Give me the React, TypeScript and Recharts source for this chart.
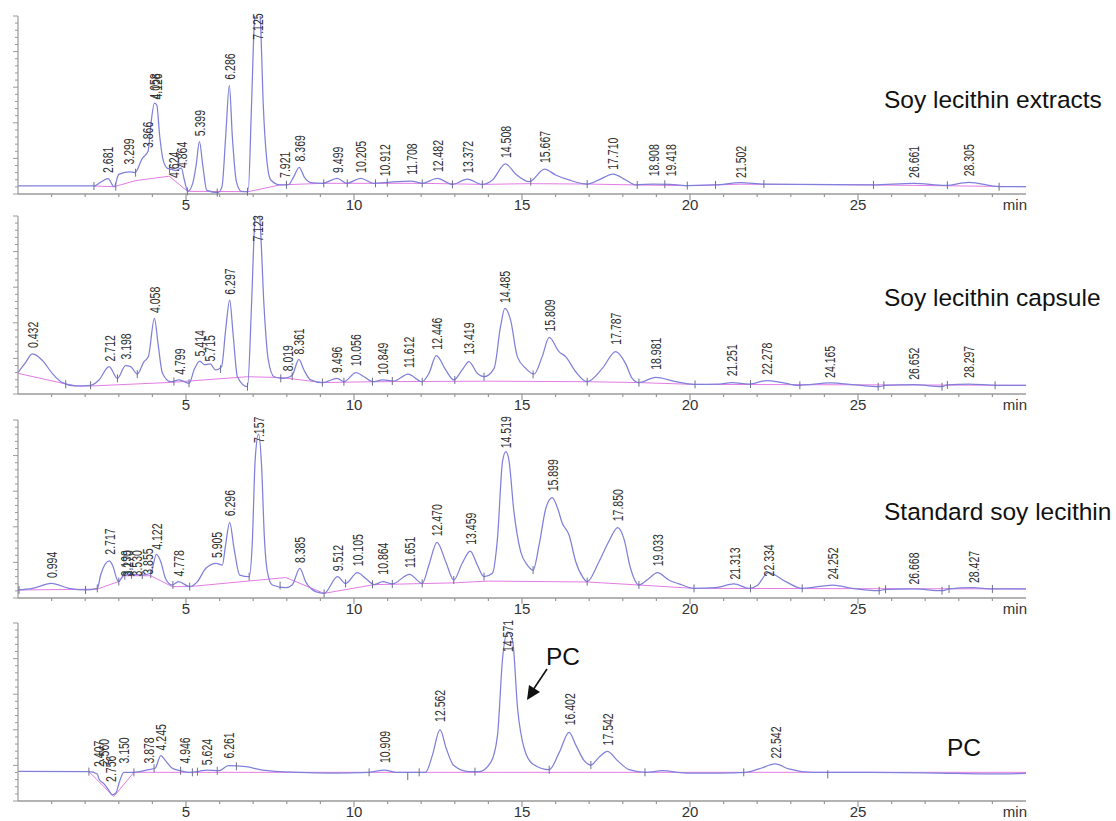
import { ComposedChart, Line, Scatter, XAxis, YAxis } from 'recharts'

type Pt = [number, number]

// retention time (min) vs detector response (0-100 = full panel height)
const extractSignal: Pt[] = [
  [0, 4.5], [1.0, 4.5], [2.26, 4.5], [2.45, 6.5], [2.68, 8.6], [2.86, 4.1], [3.0, 11], [3.3, 12.5], [3.48, 12],
  [3.7, 20], [3.87, 24], [3.96, 40], [4.06, 51], [4.13, 50], [4.22, 32], [4.32, 19], [4.45, 14.4], [4.62, 13.6],
  [4.7, 13.2], [4.86, 14.6], [4.95, 8], [5.05, 1.5], [5.2, 6], [5.3, 16], [5.4, 29.4], [5.5, 16], [5.62, 2],
  [5.95, 0.8], [6.07, 4], [6.18, 32], [6.29, 61], [6.38, 32], [6.5, 7], [6.65, 1.5], [6.85, 1.3], [6.95, 50],
  [7.03, 95], [7.13, 112], [7.22, 95], [7.3, 50], [7.4, 20], [7.52, 8], [7.8, 5.1], [8.05, 5.2], [8.2, 9.5],
  [8.37, 15], [8.52, 9.5], [8.72, 6.4], [9.06, 6], [9.5, 8.8], [9.78, 6], [10.2, 8.8], [10.58, 6], [10.91, 6.4],
  [11.7, 7.3], [12.03, 6], [12.48, 8.8], [12.93, 5.4], [13.37, 8.4], [13.82, 5.4], [14.12, 7.9], [14.51, 16.9],
  [14.81, 11.2], [15.22, 6.9], [15.67, 14], [16.0, 10.7], [16.4, 7.9], [16.94, 5.6], [17.29, 7.9], [17.71, 11.2],
  [18.09, 7.9], [18.38, 5.1], [18.91, 5.6], [19.42, 5.4], [19.87, 4.7], [20.76, 5.1], [21.5, 6.4], [22.2, 5.6],
  [25.43, 5.1], [26.66, 6], [27.61, 4.9], [28.3, 6.6], [29.2, 4.1], [30, 4.1],
]
const extractBase: Pt[] = [
  [2.26, 4.5], [2.86, 4.1], [3.5, 7.5], [4.5, 10], [5.05, 1.5], [6.85, 1.3], [7.8, 5.1], [9.06, 6], [10.58, 6],
  [12.03, 6], [13.82, 5.4], [15.22, 5.8], [16.94, 5.6], [18.38, 5.1], [19.87, 4.7], [21.5, 5.5], [25.43, 5.1], [30, 4.1],
]
const extractEvents: Pt[] = [
  [2.26, 4.5], [2.91, 4.1], [3.5, 12], [4.51, 14], [5.04, 1.5], [5.93, 0.8], [6.83, 1.3], [7.99, 5.2], [9.1, 6],
  [9.8, 6], [10.64, 6], [10.99, 6.4], [12.03, 6], [12.93, 5.4], [13.82, 5.4], [15.26, 6.9], [16.94, 5.6],
  [18.43, 5.1], [19.25, 5.5], [19.92, 4.7], [20.76, 5.1], [22.2, 5.6], [25.46, 5.1], [27.66, 4.9], [29.2, 4.1],
]
const extractPeaks: [string, number][] = [
  ['2.681', 10.7], ['3.299', 15.4], ['3.866', 24.7], ['4.126', 51.9], ['4.058', 51.9], ['4.624', 7.9],
  ['4.864', 13.5], ['5.399', 31.3], ['6.286', 63.1], ['7.125', 85.6], ['7.921', 7.9], ['8.369', 17.2],
  ['9.499', 10.7], ['10.205', 10.7], ['10.912', 8.8], ['11.708', 9.7], ['12.482', 11.2], ['13.372', 10.7],
  ['14.508', 19.1], ['15.667', 16.3], ['17.710', 12.5], ['18.908', 8.8], ['19.418', 8.8], ['21.502', 7.9],
  ['26.661', 7.9], ['28.305', 8.8],
]

const capsuleSignal: Pt[] = [
  [0, 12], [0.2, 17], [0.43, 22.5], [0.72, 19], [1.02, 11.6], [1.32, 6.4], [1.72, 4.5], [2.16, 4.9], [2.41, 7.9],
  [2.71, 15.4], [2.96, 8.8], [3.2, 15.9], [3.35, 15.4], [3.55, 11.2], [3.75, 18.2], [3.88, 21], [4.06, 42.5],
  [4.17, 28], [4.3, 11.6], [4.54, 6.9], [4.8, 7.9], [5.09, 6], [5.25, 14], [5.41, 18.5], [5.55, 16.5],
  [5.72, 16.9], [5.88, 13.5], [6.06, 15.4], [6.18, 36], [6.3, 52.8], [6.4, 34], [6.53, 9.7], [6.83, 4.1],
  [6.95, 50], [7.04, 95], [7.12, 110], [7.21, 95], [7.32, 50], [7.45, 19], [7.62, 9.7], [7.87, 8.8], [8.02, 9.2],
  [8.16, 10.5], [8.36, 19.5], [8.51, 13.5], [8.71, 7.9], [9.06, 6.4], [9.5, 8.8], [9.7, 6.9], [10.06, 12],
  [10.3, 9.7], [10.55, 6.9], [10.85, 7.9], [11.19, 7.3], [11.61, 11.2], [12.03, 6.9], [12.23, 11.6], [12.45, 21.5],
  [12.73, 13.5], [12.97, 7.9], [13.22, 13.5], [13.42, 18.2], [13.67, 11.6], [13.87, 9.7], [14.17, 14.4],
  [14.36, 37.8], [14.49, 48.1], [14.66, 41.6], [14.86, 21], [15.11, 14.4], [15.36, 11.2], [15.6, 21], [15.81, 31.8],
  [16.1, 23.8], [16.3, 21], [16.6, 12.5], [16.94, 6.9], [17.39, 14.4], [17.79, 23.8], [18.08, 17.2], [18.28, 8.8],
  [18.48, 6.4], [18.98, 9.4], [19.57, 6.9], [20.12, 5.4], [20.86, 5.6], [21.25, 6.4], [21.76, 5.6], [22.28, 7.5],
  [22.75, 6.4], [23.24, 4.9], [24.17, 6.2], [24.93, 5.1], [25.63, 4.1], [25.82, 4.9], [26.65, 5.2], [27.5, 4.1],
  [27.66, 5.1], [28.3, 5.6], [29.1, 4.9], [30, 4.9],
]
const capsuleBase: Pt[] = [
  [0, 11.6], [1.7, 4.5], [2.16, 4.5], [4.54, 6.5], [6.83, 9.7], [7.87, 9.2], [9.06, 6.4], [10.55, 6.9],
  [14, 7.2], [16.94, 6.9], [18.48, 6.4], [20.12, 5.4], [30, 4.9],
]
const capsuleEvents: Pt[] = [
  [1.42, 5.5], [2.16, 4.9], [2.96, 8.8], [3.55, 11.2], [4.64, 7], [5.09, 6], [6.03, 14], [6.83, 4.1], [7.82, 8.8],
  [8.16, 10], [9.06, 6.4], [9.7, 6.9], [10.55, 6.9], [11.14, 7.3], [12.03, 6.9], [13.0, 7.9], [13.87, 9.7],
  [15.33, 11], [16.94, 6.9], [18.48, 6.4], [20.15, 5.4], [21.8, 5.6], [23.27, 4.9], [25.6, 4.1], [25.77, 4.9],
  [27.5, 4.1], [27.66, 5.1], [29.08, 4.9],
]
const capsulePeaks: [string, number][] = [
  ['0.432', 24.7], ['2.712', 17.2], ['3.198', 18.2], ['4.058', 44.4], ['4.799', 9.7], ['5.414', 20],
  ['5.715', 17.2], ['6.297', 54.7], ['7.123', 84.6], ['8.019', 11.6], ['8.361', 21], ['9.496', 10.7],
  ['10.056', 14.4], ['10.849', 9.7], ['11.612', 13.5], ['12.446', 23.8], ['13.419', 21], ['14.485', 50],
  ['15.809', 34], ['17.787', 26.6], ['18.981', 12.5], ['21.251', 8.8], ['22.278', 9.7], ['24.165', 7.9],
  ['26.652', 6.9], ['28.297', 7.9],
]

const standardSignal: Pt[] = [
  [0, 4.5], [0.43, 5.4], [0.99, 8.2], [1.52, 5.4], [2.01, 4.5], [2.36, 5.4], [2.46, 12.9], [2.72, 20.8],
  [2.81, 18.5], [2.99, 9.2], [3.15, 12.9], [3.4, 13.3], [3.7, 12.9], [3.95, 13.9], [4.12, 24.5], [4.25, 20.4],
  [4.39, 11], [4.59, 7.3], [4.78, 9.2], [5.11, 6.4], [5.34, 9.2], [5.59, 16.7], [5.9, 19.5], [6.08, 18.5],
  [6.18, 30], [6.3, 42.5], [6.43, 27.9], [6.6, 12.9], [6.88, 12], [6.97, 29.8], [7.06, 78], [7.16, 92],
  [7.25, 74], [7.33, 35], [7.42, 15], [7.57, 7.3], [7.97, 5.8], [8.16, 7.3], [8.39, 16.7], [8.56, 9.2],
  [8.86, 3.6], [9.11, 2.6], [9.51, 12], [9.75, 8.2], [10.1, 14.2], [10.35, 11], [10.6, 7.5], [10.86, 9.2],
  [11.14, 7.9], [11.65, 13.3], [12.03, 8.2], [12.23, 18.5], [12.47, 31.3], [12.73, 20.4], [12.97, 10.1],
  [13.22, 19.5], [13.46, 26.4], [13.67, 18.5], [13.87, 12], [14.12, 13.9], [14.27, 33.5], [14.42, 76.6],
  [14.52, 82.2], [14.61, 77.5], [14.76, 48.5], [14.96, 26], [15.16, 18.5], [15.33, 15.7], [15.51, 29.8],
  [15.71, 50.4], [15.9, 56.4], [16.06, 50.4], [16.2, 42], [16.4, 35.4], [16.6, 20.4], [16.8, 12], [16.94, 9.2],
  [17.29, 20.4], [17.58, 31.6], [17.85, 39.5], [18.03, 33.5], [18.23, 16.7], [18.48, 7.3], [18.78, 11],
  [19.03, 14.2], [19.37, 10.1], [19.77, 7.3], [20.12, 5.4], [20.76, 5.8], [21.31, 7.9], [21.76, 5.4], [22.0, 7],
  [22.33, 14.2], [22.85, 9.2], [23.34, 5.4], [24.25, 7.3], [24.83, 5.4], [25.63, 4.1], [25.82, 4.9], [26.67, 5.1],
  [27.5, 4.1], [27.71, 5.1], [28.43, 5.8], [28.99, 5.1], [30, 5.1],
]
const standardBase: Pt[] = [
  [0, 4.5], [2.36, 5], [2.99, 9.2], [3.15, 12.5], [3.95, 12.5], [4.59, 6.4], [5.11, 6.4], [7.97, 11.5],
  [9.11, 2.6], [10.6, 7.5], [12.97, 8.5], [14, 9.5], [16.94, 9], [18.48, 7.3], [20.12, 5.4], [30, 5.1],
]
const standardEvents: Pt[] = [
  [0.03, 4.5], [2.01, 4.5], [2.36, 5.4], [3.0, 9.2], [3.18, 12.5], [3.38, 13], [3.7, 12.9], [3.95, 13.5],
  [4.61, 7.3], [5.11, 6.4], [6.88, 12], [7.8, 7], [9.11, 2.6], [9.75, 8.2], [10.55, 7.7], [11.14, 7.9],
  [12.03, 8.2], [12.97, 10.1], [13.87, 12], [15.33, 15.7], [16.94, 9.2], [18.48, 7.3], [20.12, 5.4], [21.8, 5.4],
  [23.34, 5.4], [25.63, 4.1], [25.82, 4.9], [27.5, 4.1], [27.71, 5.1], [29.0, 5.1],
]
const standardPeaks: [string, number][] = [
  ['0.994', 10.1], ['2.717', 23.2], ['3.199', 11], ['3.270', 11], ['3.530', 11], ['3.855', 12], ['4.122', 26],
  ['4.778', 11], ['5.905', 21.3], ['6.296', 44.8], ['7.157', 86], ['8.385', 18.5], ['9.512', 13.9],
  ['10.105', 16.7], ['10.864', 12], ['11.651', 15.7], ['12.470', 33.5], ['13.459', 28.8], ['14.519', 83],
  ['15.899', 58.8], ['17.850', 42], ['19.033', 16.7], ['21.313', 9.2], ['22.334', 11], ['24.252', 9.2],
  ['26.668', 6.4], ['28.427', 7.3],
]

const pcSignal: Pt[] = [
  [0, 16.7], [2.11, 16.5], [2.36, 15.2], [2.41, 12.4], [2.56, 9.6], [2.71, 5.8], [2.8, 3.5], [2.91, 4.5],
  [3.03, 11.4], [3.15, 16.1], [3.45, 16.1], [3.88, 17.6], [4.08, 18.4], [4.25, 25.5], [4.39, 22.7], [4.59, 18.4],
  [4.84, 17], [5.14, 16.1], [5.39, 16.7], [5.62, 17.4], [5.98, 17], [6.26, 19.9], [6.78, 19.3], [7.27, 17.4],
  [8.36, 16.1], [9.36, 15.7], [10.45, 16.1], [10.91, 17.4], [11.24, 16.1], [12.13, 16.1], [12.33, 25.5],
  [12.56, 40.1], [12.75, 29.2], [12.97, 19.9], [13.42, 16.5], [13.72, 16.5], [14.07, 21.7], [14.27, 36.7],
  [14.42, 79.8], [14.57, 95], [14.72, 90], [14.87, 51.7], [15.07, 29.2], [15.32, 20.8], [15.81, 17.6],
  [16.11, 27.3], [16.4, 38.6], [16.61, 31.1], [16.85, 22.7], [17.05, 20.2], [17.29, 24.5], [17.54, 27.9],
  [17.84, 22.7], [18.19, 17.6], [18.68, 16.1], [19.18, 17], [19.87, 15.7], [20.86, 15.7], [21.66, 16.1],
  [22.05, 18], [22.54, 20.8], [22.94, 18], [23.64, 16.1], [25.43, 16.1], [27.41, 15.7], [28.8, 15.2], [30, 15.5],
]
const pcBase: Pt[] = [
  [2.11, 16.5], [2.85, 2.5], [3.45, 16.1], [30, 16.1],
]
const pcEvents: Pt[] = [
  [2.11, 16.5], [3.45, 16.1], [4.05, 18.4], [4.84, 17], [5.19, 16.1], [5.34, 16.5], [5.93, 17], [6.5, 19.5],
  [10.45, 16.1], [11.6, 14], [11.94, 16.1], [13.6, 16.5], [15.81, 17.6], [17.05, 20.2], [18.66, 16.1],
  [21.6, 16.1], [24.1, 15],
]
const pcPeaks: [string, number][] = [
  ['2.407', 18], ['2.560', 19], ['2.756', 9.6], ['3.150', 19.9], ['3.878', 19.9], ['4.245', 27.3],
  ['4.946', 19.9], ['5.624', 19], ['6.261', 22.7], ['10.909', 20.2], ['12.562', 43.3], ['14.571', 82.6],
  ['16.402', 41.4], ['17.542', 30.1], ['22.542', 22.7],
]

const timeTicks = Array.from({ length: 30 }, (_, i) => i + 1)
const levelTicks = Array.from({ length: 26 }, (_, i) => i * 4)

const toRows = (pts: Pt[]) => pts.map(([t, v]) => ({ t, v }))
const toPeaks = (pts: [string, number][]) => pts.map(([label, v]) => ({ t: parseFloat(label), v, label }))

const panels = [
  { signal: extractSignal, base: extractBase, events: extractEvents, peaks: extractPeaks, axisY: 194 },
  { signal: capsuleSignal, base: capsuleBase, events: capsuleEvents, peaks: capsulePeaks, axisY: 394 },
  { signal: standardSignal, base: standardBase, events: standardEvents, peaks: standardPeaks, axisY: 598 },
  { signal: pcSignal, base: pcBase, events: pcEvents, peaks: pcPeaks, axisY: 801 },
]

const FONT = '"Liberation Sans", Arial, sans-serif'
const PLOT_H = 178
const TOP_M = 6
const AXIS_GREY = '#9a9a9a'

const TimeTick = ({ x, y, payload }: any) => {
  const v = payload.value
  if (v === 30) {
    return (
      <text x={x + 1} y={y + 16} textAnchor="end" fontSize={15} fill="#333" fontFamily={FONT}>min</text>
    )
  }
  const major = v % 5 === 0
  return (
    <g>
      <line x1={x} x2={x} y1={y} y2={y + (major ? 6 : 3)} stroke={AXIS_GREY} strokeWidth={1.2} />
      {major && (
        <text x={x} y={y + 16} textAnchor="middle" fontSize={15} fill="#333" fontFamily={FONT}>{v}</text>
      )}
    </g>
  )
}

const LevelTick = ({ x, y, payload }: any) => {
  const long = payload.value % 20 === 0
  return <line x1={x - (long ? 5 : 3)} x2={x} y1={y} y2={y} stroke={AXIS_GREY} strokeWidth={1} />
}

const PeakLabel = ({ cx, cy, payload }: any) => (
  <text
    transform={`translate(${cx},${cy - 2}) rotate(-90) scale(0.7,1)`}
    dy="0.36em"
    fontSize={15}
    fill="#2e2e2e"
    fontFamily={FONT}
  >
    {payload.label}
  </text>
)

const EventMark = ({ cx, cy }: any) => (
  <line x1={cx} x2={cx} y1={cy - 4} y2={cy + 4} stroke="#6e6e96" strokeWidth={1} />
)

function Trace({ signal, base, events, peaks }: { signal: Pt[]; base: Pt[]; events: Pt[]; peaks: [string, number][] }) {
  return (
    <ComposedChart width={1040} height={TOP_M + PLOT_H + 24} margin={{ top: TOP_M, right: 14, bottom: 0, left: 6 }}>
      <XAxis
        type="number"
        dataKey="t"
        domain={[0, 30]}
        ticks={timeTicks}
        interval={0}
        tick={<TimeTick />}
        tickLine={false}
        tickSize={0}
        tickMargin={0}
        height={24}
        stroke={AXIS_GREY}
        strokeWidth={1.5}
      />
      <YAxis
        type="number"
        domain={[0, 100]}
        ticks={levelTicks}
        interval={0}
        allowDataOverflow
        tick={<LevelTick />}
        tickLine={false}
        tickSize={0}
        tickMargin={0}
        width={12}
        stroke={AXIS_GREY}
        strokeWidth={1.2}
      />
      <YAxis yAxisId="labels" type="number" domain={[0, 100]} hide />
      <Line data={toRows(base)} dataKey="v" type="linear" stroke="#e47ce4" strokeWidth={1} dot={false} activeDot={false} isAnimationActive={false} />
      <Line data={toRows(signal)} dataKey="v" type="monotone" stroke="#8080dc" strokeWidth={1.25} dot={false} activeDot={false} isAnimationActive={false} />
      <Scatter yAxisId="labels" data={toRows(events)} dataKey="v" shape={(p: any) => <EventMark {...p} />} isAnimationActive={false} />
      <Scatter yAxisId="labels" data={toPeaks(peaks)} dataKey="v" shape={(p: any) => <PeakLabel {...p} />} isAnimationActive={false} />
    </ComposedChart>
  )
}

export default function App() {
  return (
    <div style={{ position: 'absolute', left: 0, top: 0, width: 1116, height: 821, overflow: 'hidden', background: '#fff' }}>
      {panels.map((p, i) => (
        <div key={i} style={{ position: 'absolute', left: 0, top: p.axisY - PLOT_H - TOP_M }}>
          <Trace signal={p.signal} base={p.base} events={p.events} peaks={p.peaks} />
        </div>
      ))}
      <svg width={1116} height={821} style={{ position: 'absolute', left: 0, top: 0, pointerEvents: 'none' }}>
        <g fontFamily={FONT} fontSize={24.5} fill="#111">
          <text x={884} y={108}>Soy lecithin extracts</text>
          <text x={884} y={306}>Soy lecithin capsule</text>
          <text x={884} y={520}>Standard soy lecithin</text>
          <text x={947} y={756}>PC</text>
          <text x={546} y={665}>PC</text>
        </g>
        <line x1={547} y1={669} x2={533} y2={690} stroke="#111" strokeWidth={1.6} />
        <polygon points="527,700 540,692 529,685" fill="#111" />
      </svg>
    </div>
  )
}
